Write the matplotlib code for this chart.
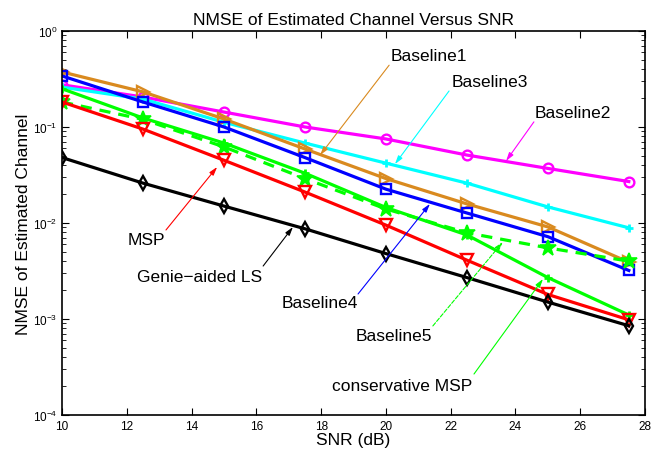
import numpy as np
import matplotlib
matplotlib.use("Agg")
import matplotlib.pyplot as plt
from matplotlib.ticker import LogLocator, FixedLocator

plt.rcParams['font.family'] = ['Liberation Sans', 'DejaVu Sans']
plt.rcParams['mathtext.fontset'] = 'custom'
plt.rcParams['mathtext.rm'] = 'Liberation Sans'

snr = [10, 12.5, 15, 17.5, 20, 22.5, 25, 27.5]

baseline1 = [0.374, 0.232, 0.121, 0.059, 0.029, 0.0158, 0.0091, 0.0039]
baseline2 = [0.275, 0.205, 0.143, 0.100, 0.075, 0.051, 0.037, 0.027]
baseline3 = [0.26, 0.195, 0.112, 0.068, 0.042, 0.026, 0.0147, 0.0089]
baseline4 = [0.34, 0.182, 0.100, 0.048, 0.0225, 0.0127, 0.0072, 0.0032]
baseline5 = [0.182, 0.120, 0.062, 0.029, 0.0140, 0.0079, 0.0055, 0.0040]
msp = [0.182, 0.095, 0.045, 0.021, 0.0095, 0.0041, 0.0018, 0.00098]
cons_msp = [0.25, 0.124, 0.068, 0.033, 0.0145, 0.0075, 0.0027, 0.0011]
genie_ls = [0.048, 0.026, 0.015, 0.0087, 0.0048, 0.0027, 0.0015, 0.00085]

orange = '#D98A1F'

fig = plt.figure(figsize=(6.61, 4.52), dpi=100)
ax = fig.add_axes([0.0938, 0.0797, 0.882, 0.8496])

lw = 2.3
ax.semilogy(snr, baseline2, '-o', color='#FF00FF', lw=lw, ms=7, mfc='none', mew=1.7)
ax.semilogy(snr, baseline3, '-+', color='#00FFFF', lw=lw, ms=6, mew=2)
ax.semilogy(snr, baseline1, '->', color=orange, lw=lw, ms=8, mfc='none', mew=1.7)
ax.semilogy(snr, baseline4, '-s', color='#0000FF', lw=lw, ms=7, mfc='none', mew=1.7)
ax.semilogy(snr, cons_msp, '-+', color='#00FF00', lw=lw, ms=6, mew=2)
ax.semilogy(snr, baseline5, '--*', color='#00FF00', lw=lw, ms=12, mew=1.2,
            dashes=(3.5, 2.5))
ax.semilogy(snr, msp, '-v', color='#FF0000', lw=lw, ms=8, mfc='none', mew=1.7)
ax.semilogy(snr, genie_ls, '-d', color='black', lw=lw, ms=7, mfc='none', mew=1.7)

ax.set_xlim(10, 28)
ax.set_ylim(1e-4, 1)
ax.xaxis.set_major_locator(FixedLocator(np.arange(10, 29, 2)))
ax.yaxis.set_major_locator(LogLocator(base=10, numticks=10))
ax.yaxis.set_minor_locator(LogLocator(base=10, subs=np.arange(2, 10), numticks=10))
ax.yaxis.set_minor_formatter(plt.NullFormatter())
ax.tick_params(which='both', direction='in', top=True, right=True, labelsize=8.5)
ax.tick_params(which='major', length=5, width=0.8)
ax.tick_params(which='minor', length=3, width=0.6)
for s in ax.spines.values():
    s.set_linewidth(1.2)

ax.set_title('NMSE of Estimated Channel Versus SNR', fontsize=12.5, pad=5)
ax.set_xlabel('SNR (dB)', fontsize=12.5, labelpad=0)
ax.set_ylabel('NMSE of Estimated Channel', fontsize=12.5, labelpad=1)

# labels with arrows pointing at each curve
notes = [
    ('Baseline1', (20.16, 0.56), (20.10, 0.44), (17.97, 0.051), orange, '-'),
    ('Baseline3', (22.04, 0.294), (21.95, 0.237), (20.28, 0.041), '#00FFFF', '-'),
    ('Baseline2', (24.60, 0.143), (24.57, 0.113), (23.71, 0.0442), '#FF00FF', '-'),
    ('MSP', (12.04, 0.00665), (13.21, 0.00845), (14.79, 0.0383), '#FF0000', '-'),
    ('Genie\u2212aided LS', (12.32, 0.0028), (16.21, 0.00356), (17.13, 0.00908), 'black', '-'),
    ('Baseline4', (16.79, 0.0015), (19.14, 0.00182), (21.36, 0.0158), '#0000FF', '-'),
    ('Baseline5', (19.08, 0.000665), (21.45, 0.000846), (23.61, 0.00634), '#00FF00', '--'),
    ('conservative MSP', (18.34, 0.000205), (22.72, 0.000267), (24.85, 0.00261), '#00FF00', '-'),
]
for label, tpos, tail, head, col, ls in notes:
    ax.text(tpos[0], tpos[1], label, fontsize=12.5, ha='left', va='center')
    ax.annotate('', xy=head, xytext=tail,
                arrowprops=dict(arrowstyle='-|>,head_length=0.5,head_width=0.15',
                                color=col, lw=0.8, linestyle=ls,
                                shrinkA=0, shrinkB=0))

fig.savefig('out.png', dpi=100)
